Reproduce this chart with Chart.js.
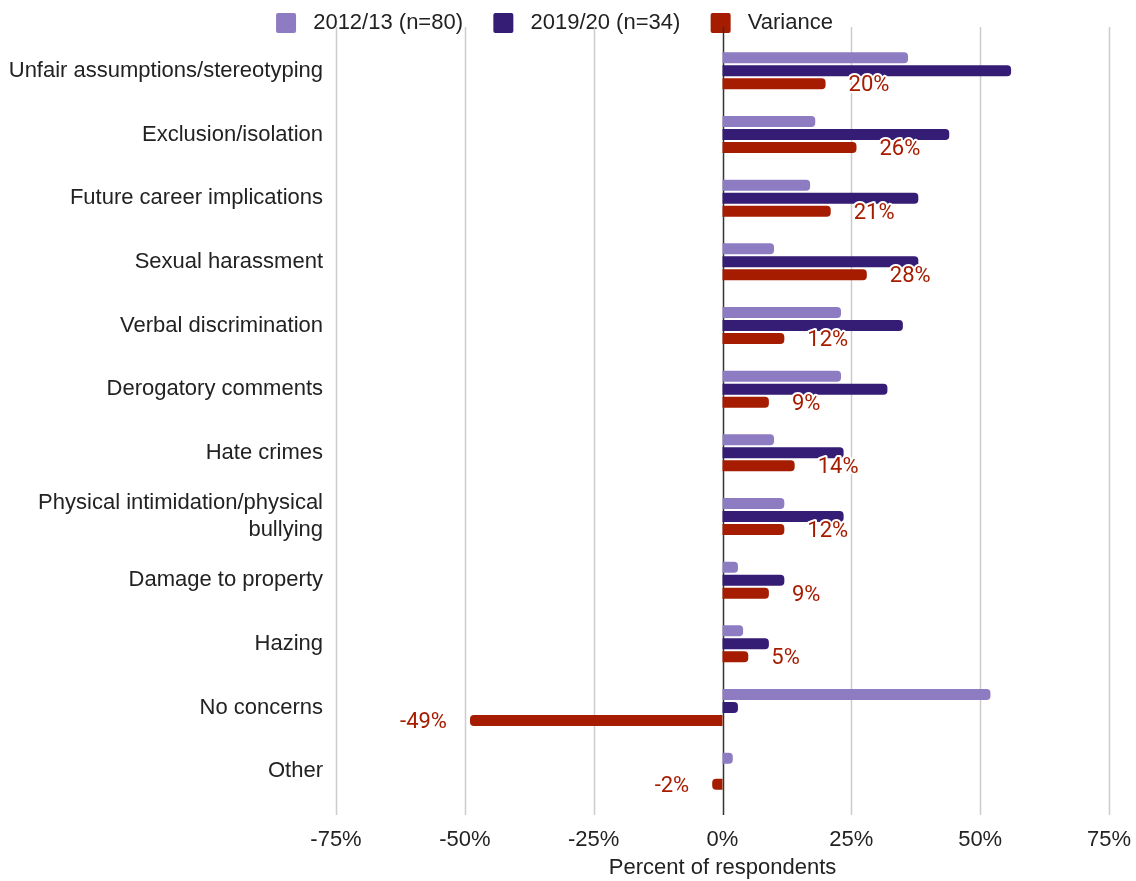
<!DOCTYPE html>
<html>
<head>
<meta charset="utf-8">
<script src="https://cdn.jsdelivr.net/npm/chart.js@4"></script>
<style>
  html, body { margin: 0; padding: 0; background: #fff; }
  #wrap { width: 1136px; height: 881px; }
</style>
</head>
<body>
<div id="wrap"><canvas id="concernsChart" width="1136" height="881"></canvas></div>
<script>
// Danh mục và số liệu
const categories = [
    'Unfair assumptions/stereotyping',
    'Exclusion/isolation',
    'Future career implications',
    'Sexual harassment',
    'Verbal discrimination',
    'Derogatory comments',
    'Hate crimes',
    ['Physical intimidation/physical', 'bullying'],
    'Damage to property',
    'Hazing',
    'No concerns',
    'Other'
];
const series2012 = [36, 18, 17, 10, 23, 23, 10, 12, 3, 4, 52, 2];
const series2019 = [56, 44, 38, 38, 35, 32, 23.5, 23.5, 12, 9, 3, 0];
const variance = [20, 26, 21, 28, 12, 9, 14, 12, 9, 5, -49, -2];
const xTicks = [-75, -50, -25, 0, 25, 50, 75];

const seriesNames = ['2012/13 (n=80)', '2019/20 (n=34)', 'Variance'];
const seriesColors = ['#8e7cc3', '#351c75', '#a61c00'];

const axisFont = 'Liberation Sans, Arial, sans-serif';

// Vẽ lưới dọc dài hơn vùng biểu đồ + đường 0 màu đen
const gridPlugin = {
    id: 'gridLines',
    beforeDatasetsDraw(chart) {
        const { ctx, chartArea, scales: { x } } = chart;
        ctx.save();
        xTicks.forEach(t => {
            const px = Math.round(x.getPixelForValue(t)) + 0.5;
            ctx.beginPath();
            ctx.moveTo(px, chartArea.top - 12);
            ctx.lineTo(px, chartArea.bottom + 12);
            ctx.lineWidth = 1.5;
            ctx.strokeStyle = t === 0 ? '#333333' : '#cccccc';
            ctx.stroke();
        });
        ctx.restore();
    }
};

// Nhãn giá trị cho series Variance
const varianceLabels = {
    id: 'varianceLabels',
    afterDatasetsDraw(chart) {
        const { ctx } = chart;
        const meta = chart.getDatasetMeta(2);
        ctx.save();
        ctx.font = '22px Roboto, sans-serif';
        ctx.textBaseline = 'middle';
        ctx.lineJoin = 'round';
        meta.data.forEach((bar, i) => {
            const v = variance[i];
            const text = v + '%';
            const neg = v < 0;
            ctx.textAlign = neg ? 'right' : 'left';
            const tx = bar.x + (neg ? -23 : 23);
            const ty = bar.y + 2;
            ctx.strokeStyle = '#ffffff';
            ctx.lineWidth = 4;
            ctx.strokeText(text, tx, ty);
            ctx.fillStyle = '#a61c00';
            ctx.fillText(text, tx, ty);
        });
        ctx.restore();
    }
};

const ctx = document.getElementById('concernsChart');
new Chart(ctx, {
    type: 'bar',
    data: {
        labels: categories,
        datasets: [series2012, series2019, variance].map((d, i) => ({
            label: seriesNames[i],
            data: d,
            backgroundColor: seriesColors[i],
            borderRadius: 4,
            borderSkipped: 'start',
            categoryPercentage: 0.613,
            barPercentage: 0.846
        }))
    },
    options: {
        indexAxis: 'y',
        responsive: false,
        animation: false,
        layout: { padding: { top: 0, right: 27, bottom: 0, left: 0 } },
        scales: {
            x: {
                min: -75,
                max: 75,
                afterBuildTicks(scale) {
                    scale.ticks = xTicks.map(v => ({ value: v }));
                },
                afterFit(scale) {
                    scale.height = 78;
                    scale.paddingLeft = 0;
                    scale.paddingRight = 0;
                },
                grid: { display: false, drawTicks: false },
                border: { display: false },
                ticks: {
                    color: '#222222',
                    font: { family: axisFont, size: 22 },
                    padding: 24,
                    maxRotation: 0,
                    callback: v => v + '%'
                },
                title: {
                    display: true,
                    text: 'Percent of respondents',
                    color: '#222222',
                    font: { family: axisFont, size: 22 },
                    padding: { top: 2, bottom: 0 }
                }
            },
            y: {
                afterFit(scale) { scale.width = 336; },
                grid: { display: false, drawTicks: false },
                border: { display: false },
                ticks: {
                    color: '#222222',
                    font: { family: axisFont, size: 22 },
                    padding: 13
                }
            }
        },
        plugins: {
            legend: {
                position: 'top',
                maxHeight: 39,
                labels: {
                    color: '#222222',
                    font: { family: axisFont, size: 22 },
                    boxWidth: 20,
                    boxHeight: 20,
                    padding: 12,
                    useBorderRadius: true,
                    borderRadius: 2,
                    // thêm khoảng trắng để giãn cách giữa các mục chú thích
                    generateLabels(chart) {
                        const items = Chart.defaults.plugins.legend.labels.generateLabels(chart);
                        items.forEach((it, i) => {
                            it.text = ' ' + it.text + (i < items.length - 1 ? '   ' : '');
                        });
                        return items;
                    }
                }
            },
            tooltip: { enabled: false }
        }
    },
    plugins: [gridPlugin, varianceLabels]
});
</script>
</body>
</html>
